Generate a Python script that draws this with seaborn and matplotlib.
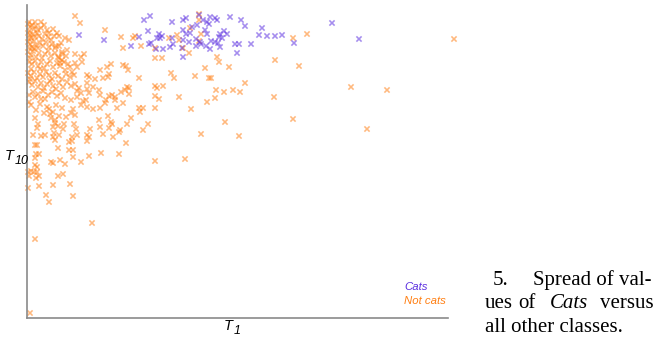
import matplotlib
matplotlib.use("Agg")
import matplotlib.pyplot as plt
import pandas as pd
import seaborn as sns

# Values (arbitrary units, axes run 0..421 and 0..313)
CATS = [
    (52, 283), (77, 278), (104, 272), (112, 281), (117, 298), (121, 287), (122, 274),
    (123, 302), (124, 275), (129, 269), (130, 280), (132, 284), (133, 280), (135, 282),
    (136, 269), (143, 271), (145, 296), (145, 280), (146, 274), (155, 270), (156, 298),
    (156, 288), (156, 278), (156, 261), (159, 300), (159, 284), (162, 276), (163, 285),
    (165, 291), (169, 279), (169, 272), (170, 293), (172, 303), (173, 276), (174, 274),
    (176, 298), (178, 288), (179, 272), (180, 296), (180, 284), (182, 294), (183, 301),
    (183, 269), (184, 277), (188, 276), (188, 300), (190, 298), (191, 275), (192, 281),
    (193, 284), (193, 271), (195, 280), (197, 287), (200, 284), (203, 301), (208, 274),
    (212, 274), (210, 265), (214, 298), (218, 292), (224, 274), (232, 283), (235, 290),
    (240, 282), (248, 282), (255, 283), (267, 275), (305, 295), (332, 279),
]

NOT_CATS_SPREAD = [
    (427, 279), (324, 231), (360, 228), (340, 189), (266, 280), (280, 284), (266, 199),
    (247, 221), (248, 258), (272, 252), (202, 251), (218, 235), (178, 250), (190, 261),
    (192, 256), (184, 240), (189, 228), (197, 226), (206, 228), (213, 226), (180, 216),
    (188, 220), (198, 196), (174, 184), (212, 182), (158, 159), (128, 157), (164, 209),
    (152, 221), (182, 240), (168, 242), (144, 245), (147, 240), (172, 304), (172, 298),
    (174, 284), (172, 277), (163, 290), (150, 283), (152, 278), (142, 280), (156, 270),
    (162, 265), (128, 270), (128, 260), (135, 260), (114, 272), (96, 270), (106, 280),
    (108, 282), (94, 281), (78, 288), (48, 302), (53, 295), (112, 240),
]

NOT_CATS_MIDDLE = [
    (80, 251), (84, 254), (82, 244), (81, 241), (76, 240), (96, 253), (99, 252), (101, 248),
    (73, 248), (68, 239), (62, 241), (60, 235), (66, 231), (72, 228), (73, 223), (82, 222),
    (85, 223), (88, 221), (88, 218), (94, 226), (100, 231), (102, 230), (102, 224), (98, 228),
    (78, 215), (90, 210), (96, 215), (73, 210), (112, 210), (116, 210), (113, 206), (128, 232),
    (130, 230), (136, 232), (128, 222), (132, 219), (128, 210), (81, 202), (84, 196), (85, 194),
    (82, 190), (104, 200), (73, 191), (76, 184), (93, 188), (92, 186), (100, 194), (86, 181),
    (116, 188), (121, 194), (99, 175), (74, 165), (92, 164), (62, 162), (54, 156), (46, 161),
    (38, 154), (54, 225), (56, 217), (50, 221), (59, 218), (60, 229), (62, 225), (50, 227),
    (44, 218), (54, 213), (66, 209), (79, 218), (60, 211), (72, 198), (63, 189), (62, 181),
    (60, 177), (60, 183), (50, 183), (45, 181), (42, 176), (45, 177),
]

NOT_CATS_LOWER_LEFT = [
    (2, 223), (2, 216), (8, 221), (14, 219), (46, 209), (22, 209), (26, 206), (23, 204),
    (32, 202), (44, 205), (48, 203), (28, 198), (11, 194), (10, 190), (28, 195), (31, 192),
    (26, 191), (36, 189), (37, 194), (47, 194), (49, 189), (6, 183), (14, 182), (18, 183),
    (27, 185), (26, 181), (32, 183), (28, 178), (8, 173), (10, 173), (31, 170), (42, 168),
    (46, 168), (24, 156), (26, 155), (33, 158), (9, 164), (12, 164), (8, 160), (8, 153),
    (10, 151), (7, 146), (10, 146), (12, 142), (1, 146), (2, 142), (31, 142), (36, 144),
    (26, 133), (43, 134), (1, 130), (12, 132), (19, 123), (46, 122), (22, 116), (65, 95),
    (8, 79), (3, 5), (9, 140), (4, 147),
]

NOT_CATS_DENSE = [
    (2, 296), (8, 296), (14, 296), (26, 289), (22, 285), (32, 282), (38, 280), (42, 278),
    (48, 264), (57, 264), (54, 261), (55, 256), (50, 251), (48, 255), (43, 251), (33, 255),
    (40, 268), (32, 272), (28, 270), (35, 266), (32, 260), (35, 258), (38, 248), (45, 246),
    (60, 243),
    (1, 294), (3, 291), (5, 293), (7, 289), (2, 287), (9, 292), (11, 288), (14, 290),
    (17, 293), (20, 288),
    (1, 285), (3, 283), (4, 280), (6, 284), (8, 281), (10, 285), (12, 282), (15, 279),
    (18, 284), (21, 281), (24, 278), (27, 282), (2, 279), (30, 285),
    (1, 276), (3, 274), (5, 271), (7, 277), (9, 273), (11, 270), (13, 275), (16, 272),
    (19, 276), (22, 271), (25, 274), (29, 272), (2, 270), (34, 275), (7, 269),
    (1, 266), (4, 263), (6, 267), (9, 261), (12, 265), (15, 260), (18, 264), (21, 267),
    (24, 262), (28, 265), (31, 261), (35, 264), (3, 260), (39, 262),
    (2, 256), (5, 254), (8, 257), (11, 252), (14, 256), (17, 250), (20, 254), (23, 257),
    (26, 251), (30, 255), (33, 252), (37, 256), (41, 254), (4, 249), (13, 249),
    (1, 245), (4, 242), (7, 246), (10, 240), (13, 244), (16, 241), (19, 246), (22, 243),
    (25, 239), (28, 245), (31, 242), (35, 239), (39, 244), (43, 241), (47, 243), (3, 239),
    (2, 236), (5, 233), (8, 237), (11, 231), (14, 235), (17, 230), (20, 234), (23, 237),
    (26, 232), (29, 229), (32, 235), (36, 231), (40, 236), (44, 232), (48, 234), (52, 230),
    (6, 226), (11, 224), (16, 227), (21, 223), (25, 226), (30, 222), (34, 225), (38, 220),
    (18, 219),
    (4, 213), (9, 208), (13, 214), (17, 205), (20, 211), (24, 200), (29, 213), (35, 210),
    (39, 201), (8, 200),
]

GROUPS = ["Not cats", "Cats"]
COLORS = {"Cats": "#5a2ee0", "Not cats": "#ff7f12"}

not_cats = NOT_CATS_DENSE + NOT_CATS_MIDDLE + NOT_CATS_LOWER_LEFT + NOT_CATS_SPREAD
df = pd.concat([
    pd.DataFrame(not_cats, columns=["T1", "T10"]).assign(group="Not cats"),
    pd.DataFrame(CATS, columns=["T1", "T10"]).assign(group="Cats"),
], ignore_index=True)

sns.set_theme(style="white")
plt.rcParams["font.family"] = ["Liberation Sans", "DejaVu Sans"]

fig = plt.figure(figsize=(6.6, 3.39), dpi=100)
ax = fig.add_axes([27 / 660, 1 - 318 / 339, 421 / 660, 313 / 339])

sns.scatterplot(data=df, x="T1", y="T10", hue="group", hue_order=GROUPS,
                palette=COLORS, marker="x", s=14, linewidth=1.15, alpha=0.55,
                legend=False, ax=ax, clip_on=False)

ax.set_xlim(0, 421)
ax.set_ylim(0, 313)
ax.set_xticks([])
ax.set_yticks([])
ax.set_xlabel("")
ax.set_ylabel("")
sns.despine(ax=ax)
for side in ("left", "bottom"):
    ax.spines[side].set_color("#8a8a8a")
    ax.spines[side].set_linewidth(1.2)

# axis names with large subscripts, placed like the original
W, H = 660, 339
lab = dict(fontsize=10.5, style="italic", color="black", va="baseline")
sub = dict(fontsize=9, style="italic", color="black", va="baseline")
fig.text(224 / W, 1 - 330 / H, "T", **lab)
fig.text(234 / W, 1 - 333.5 / H, "1", **sub)
fig.text(5 / W, 1 - 160 / H, "T", **lab)
fig.text(15 / W, 1 - 164 / H, "10", **sub)

# hand-made legend, coloured text only
ax.text(377, 28, "Cats", color=COLORS["Cats"], fontsize=8.2, style="italic", va="baseline")
ax.text(377, 14, "Not cats", color=COLORS["Not cats"], fontsize=8.2, style="italic", va="baseline")

# caption beside the plot (justified by hand)
serif = dict(family="Liberation Serif", fontsize=15, color="black", va="baseline")
fig.text(493 / W, 1 - 285 / H, "5.", **serif)
fig.text(533 / W, 1 - 285 / H, "Spread of val-", **serif)
fig.text(485 / W, 1 - 308.5 / H, "ues", **serif)
fig.text(518 / W, 1 - 308.5 / H, "of", **serif)
fig.text(550 / W, 1 - 308.5 / H, "Cats", style="italic", **serif)
fig.text(600 / W, 1 - 308.5 / H, "versus", **serif)
fig.text(485 / W, 1 - 332.5 / H, "all other classes.", **serif)

fig.savefig("out.png", dpi=100)
